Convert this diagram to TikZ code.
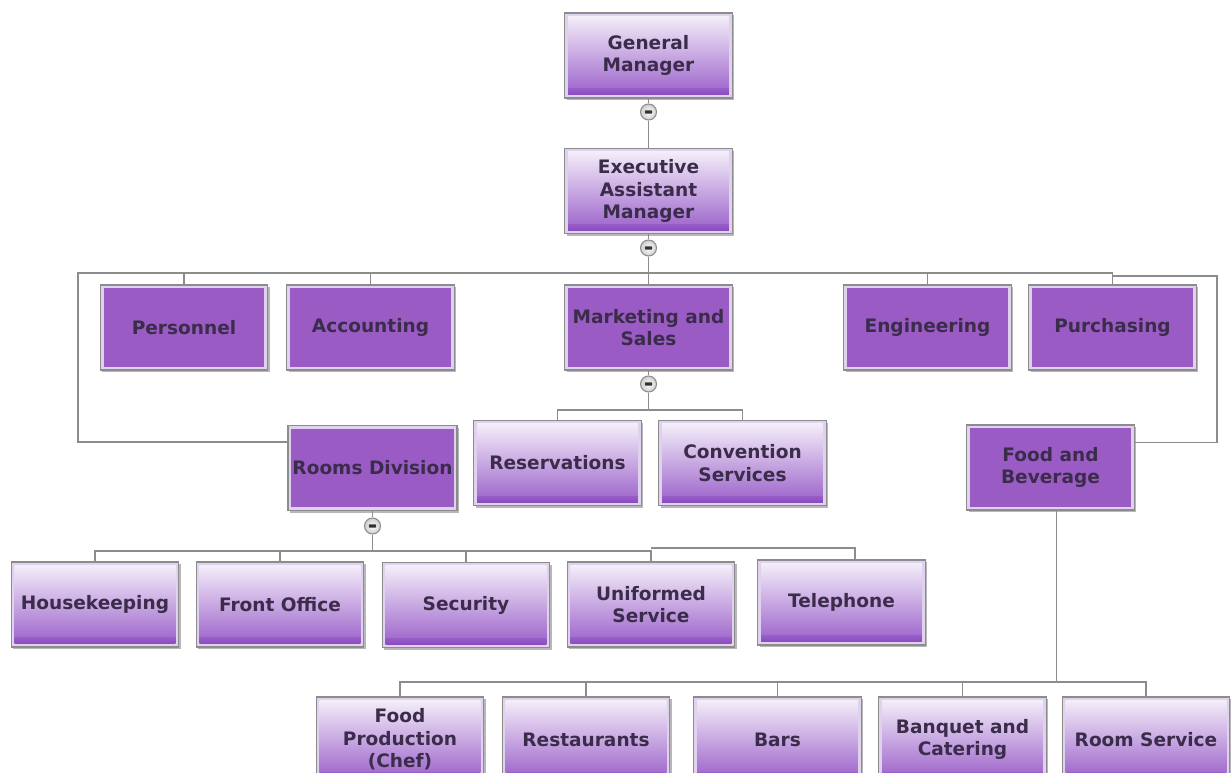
\documentclass[tikz,border=0pt]{standalone}
\usepackage{fontspec}
\setmainfont{DejaVu Sans}
\usetikzlibrary{calc,shadows}

\definecolor{boxpurple}{RGB}{154,92,196}
\definecolor{boxrim}{RGB}{224,210,238}
\definecolor{boxline}{RGB}{140,140,140}
\definecolor{labeltext}{RGB}{58,44,74}
\definecolor{linkgray}{RGB}{140,140,140}
\definecolor{shadetop}{RGB}{247,243,251}
\definecolor{shademid}{RGB}{202,170,224}
\definecolor{shadebot}{RGB}{152,92,200}
\definecolor{shadeband}{RGB}{136,76,192}

\tikzset{
  unit/.style={draw=boxline, line width=0.8pt, fill=boxrim,
    minimum width=125.5pt, minimum height=63.75pt, inner sep=0pt,
    align=center, text=labeltext,
    font=\fontsize{13.9}{16.9}\selectfont\bfseries,
    drop shadow={shadow xshift=1.6pt, shadow yshift=-1.8pt,
      opacity=0.4, fill=black!70}},
  solidunit/.style={unit,
    path picture={\fill[boxpurple]
      ($(path picture bounding box.south west)+(2.4pt,2.4pt)$) rectangle
      ($(path picture bounding box.north east)+(-2.4pt,-2.4pt)$);}},
  shadedunit/.style={unit,
    path picture={
      \shade[top color=shadetop, middle color=shademid, bottom color=shadebot]
        ($(path picture bounding box.south west)+(2.4pt,2.4pt)$) rectangle
        ($(path picture bounding box.north east)+(-2.4pt,-2.4pt)$);
      \shade[top color=shadebot, bottom color=shadeband]
        ($(path picture bounding box.south west)+(2.4pt,2.4pt)$) rectangle
        ($(path picture bounding box.south east)+(-2.4pt,7pt)$);}},
  toggle/.style={circle, draw=boxline, line width=0.8pt, inner sep=0pt,
    minimum size=12pt, inner color=white, outer color=black!20,
    path picture={\fill[black!80, rounded corners=0.6pt]
      ($(path picture bounding box.center)+(-2.7pt,-1.3pt)$) rectangle
      ($(path picture bounding box.center)+(2.7pt,1.3pt)$);}},
  link/.style={draw=linkgray, line width=1pt}
}

\begin{document}
\begin{tikzpicture}[x=0.75pt, y=-0.75pt]
  \fill[white] (0,0) rectangle (1231,773);
  \clip (0,0) rectangle (1231,773);

  % top of the chart
  \node[shadedunit] (gm)  at (648.5,55.5) {General\\Manager};
  \node[toggle]     (t1)  at (648.5,112) {};
  \node[shadedunit] (eam) at (648.5,191) {Executive\\Assistant\\Manager};
  \node[toggle]     (t2)  at (648.5,248) {};

  % departments
  \node[solidunit] (pers) at (184,327.5)    {Personnel};
  \node[solidunit] (acct) at (370.5,327.5)  {Accounting};
  \node[solidunit] (mkt)  at (648.5,327.5)  {Marketing and\\Sales};
  \node[solidunit] (eng)  at (927.5,327.5)  {Engineering};
  \node[solidunit] (pur)  at (1112.5,327.5) {Purchasing};
  \node[toggle]    (t3)   at (648.5,384)    {};

  \node[solidunit, minimum width=126.75pt] (rooms) at (372.5,468) {Rooms Division};
  \node[toggle]    (t4)   at (372.5,526)    {};
  \node[shadedunit] (res)  at (557.5,463)   {Reservations};
  \node[shadedunit] (conv) at (742.5,463)   {Convention\\Services};
  \node[solidunit]  (fb)   at (1050.5,467.5) {Food and\\Beverage};

  % rooms division sections
  \node[shadedunit] (hk)  at (95,604.5)    {Housekeeping};
  \node[shadedunit] (fo)  at (280,604.5)   {Front Office};
  \node[shadedunit] (sec) at (466,605)     {Security};
  \node[shadedunit] (uni) at (651,604.5)   {Uniformed\\Service};
  \node[shadedunit] (tel) at (841.5,602.5) {Telephone};

  % food and beverage sections
  \node[shadedunit] (fp)   at (400,739.5)    {Food\\Production\\(Chef)};
  \node[shadedunit] (rest) at (586,739.5)    {Restaurants};
  \node[shadedunit] (bars) at (777.5,739.5)  {Bars};
  \node[shadedunit] (banq) at (962.5,739.5)  {Banquet and\\Catering};
  \node[shadedunit] (rs)   at (1146,739.5)   {Room Service};

  % bus points
  \coordinate (busA)  at (648.5,273);
  \coordinate (busAl) at (78,273);
  \coordinate (busAr) at (1112.5,273);
  \coordinate (busB)  at (1112.5,276);
  \coordinate (busBr) at (1217,276);
  \coordinate (rdin)  at ($(rooms.north west)+(0,17)$);
  \coordinate (fbin)  at ($(fb.north east)+(0,18)$);
  \coordinate (busC)  at (648.5,410);
  \coordinate (busD)  at (372.5,551);
  \coordinate (busE)  at (651,548);
  \coordinate (telin) at ($(tel.north)+(13.5,0)$);
  \coordinate (fbout) at ($(fb.south)+(6,0)$);
  \coordinate (busF)  at (1056.5,682);

  % connectors
  \draw[link] (gm.south) -- (t1.north);
  \draw[link] (t1.south) -- (eam.north);
  \draw[link] (eam.south) -- (t2.north);
  \draw[link] (t2.south) -- (busA) -- (mkt.north);
  \draw[link] (rdin) -| (busAl) -- (busAr) -- (pur.north);
  \draw[link] (pers.north) -- (pers.north |- busA);
  \draw[link] (acct.north) -- (acct.north |- busA);
  \draw[link] (eng.north) -- (eng.north |- busA);
  \draw[link] (busB) -- (busBr) |- (fbin);

  \draw[link] (mkt.south) -- (t3.north);
  \draw[link] (t3.south) -- (busC);
  \draw[link] (res.north) |- (busC) -| (conv.north);

  \draw[link] (rooms.south) -- (t4.north);
  \draw[link] (t4.south) -- (busD);
  \draw[link] (hk.north) |- (busD) -| (uni.north);
  \draw[link] (fo.north) -- (fo.north |- busD);
  \draw[link] (sec.north) -- (sec.north |- busD);
  \draw[link] (busE) -| (telin);

  \draw[link] (fbout) -- (busF);
  \draw[link] (fp.north) |- (busF) -| (rs.north);
  \draw[link] (rest.north) -- (rest.north |- busF);
  \draw[link] (bars.north) -- (bars.north |- busF);
  \draw[link] (banq.north) -- (banq.north |- busF);
\end{tikzpicture}
\end{document}
